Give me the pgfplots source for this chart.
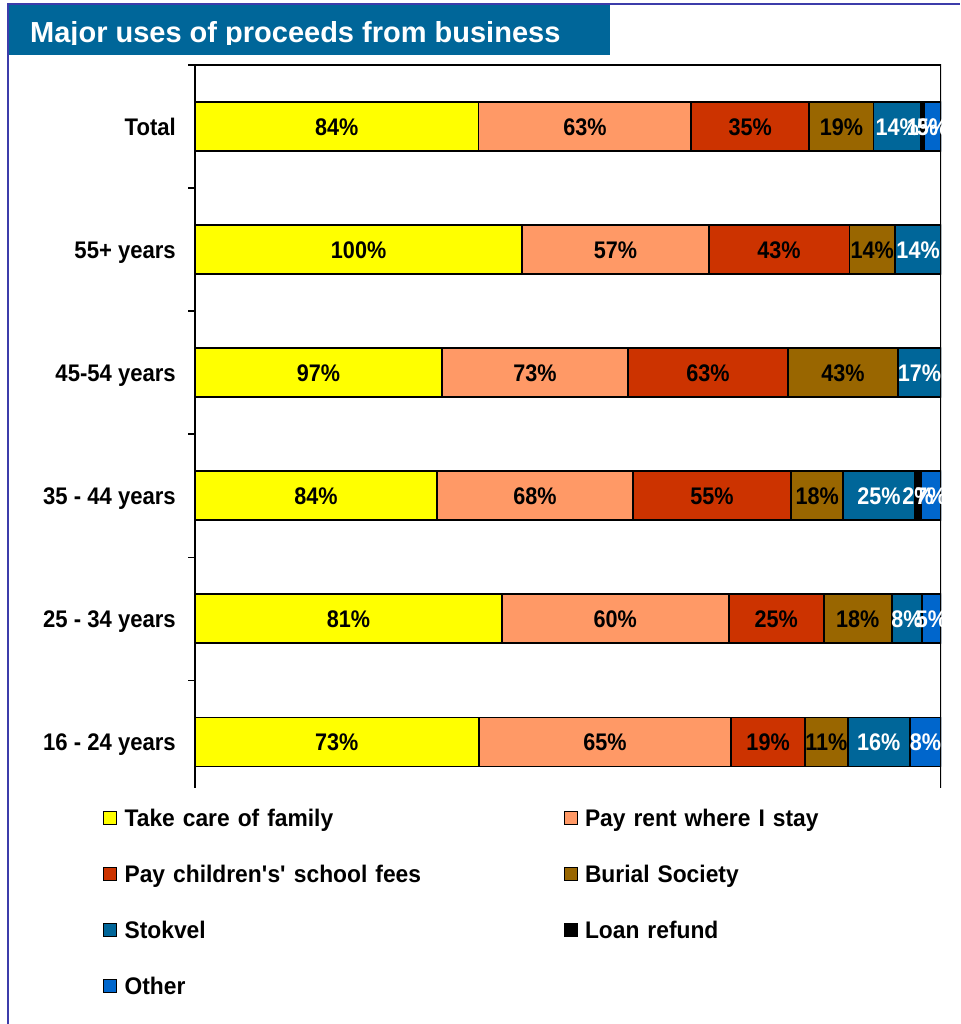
\documentclass[border=0pt]{standalone}
\usepackage{pgfplots}
\usepackage{pgfplotstable}
\pgfplotsset{compat=1.18}
\usepackage{fontspec}
\setmainfont{Liberation Sans}
\newfontfamily\tickfont[FakeStretch=0.92]{Liberation Sans}
\newfontfamily\barfont[FakeStretch=0.9]{Liberation Sans}
\newfontfamily\legfont[FakeStretch=0.95]{Liberation Sans}

\definecolor{cYellow}{HTML}{FFFF00}
\definecolor{cSalmon}{HTML}{FF9966}
\definecolor{cRed}{HTML}{CC3300}
\definecolor{cBrown}{HTML}{996600}
\definecolor{cTeal}{HTML}{006699}
\definecolor{cLoan}{HTML}{000000}
\definecolor{cOther}{HTML}{0066CC}
\definecolor{titleblue}{HTML}{006699}
\definecolor{frameblue}{RGB}{60,60,170}

% share of respondents (%) naming each use, by age group (0 = 16-24 ... 5 = Total)
\pgfplotstableread{
idx fam rent school burial stokvel loan other
0   73  65   19     11     16      0    8
1   81  60   25     18     8       0    5
2   84  68   55     18     25      2    7
3   97  73   63     43     17      0    0
4   100 57   43     14     14      0    0
5   84  63   35     19     14      1    5
}\uses
% row totals, used to scale every bar to the full width
\pgfplotstablecreatecol[expr={\thisrow{fam}+\thisrow{rent}+\thisrow{school}+\thisrow{burial}+\thisrow{stokvel}+\thisrow{loan}+\thisrow{other}}]{sum}{\uses}

\pgfplotsset{
  panel/.style={
    at={(195pt,236pt)}, anchor=south west,
    scale only axis, width=746pt, height=723pt,
    xmin=0, xmax=100, ymin=-0.374, ymax=5.5,
    clip mode=global,
  },
}

\begin{document}
\begin{tikzpicture}[x=1pt,y=1pt]
\path[use as bounding box] (0,0) rectangle (960,1024);

% heading bar
\fill[titleblue] (8,969) rectangle (610,1019);
\begin{scope}
  \clip (8,979) rectangle (610,1019);
  \node[anchor=base west, text=white, inner sep=0pt,
        font=\bfseries\fontsize{29}{34}\selectfont] at (30,981)
        {Major uses of proceeds from business};
\end{scope}

% page frame
\draw[frameblue, line width=2pt] (8,0) -- (8,1020) -- (960,1020);

% the stacked bars, each row scaled to its total
\begin{axis}[
  panel,
  xbar stacked, bar width=49pt,
  axis x line=none, axis y line=left,
  axis line style={-, line width=1.8pt, black},
  ytick={0,...,5},
  yticklabels={16 - 24 years, 25 - 34 years, 35 - 44 years, 45-54 years, 55+ years, Total},
  major tick length=0pt,
  extra y ticks={0.5,1.5,2.5,3.5,4.5,5.5},
  extra y tick labels={},
  extra y tick style={major tick length=7pt, tick align=outside,
                      tick style={line width=1.5pt, black}},
  yticklabel style={font=\tickfont\bfseries\fontsize{24}{28}\selectfont,
                    anchor=base east, inner sep=0pt, xshift=-19pt, yshift=-8.6pt},
  every axis plot/.append style={draw=black, line width=1.8pt},
  every axis plot post/.append style={
    legend image code/.code={
      \draw[##1, draw=black, line width=1pt] (0pt,-4pt) rectangle (13pt,9pt);
      \path (20pt,0pt);
    }},
  legend columns=2, legend cell align=left,
  legend style={draw=none, fill=none, at={(-0.1233,-0.0295)}, anchor=north west,
      inner sep=0pt, row sep=34pt, column sep=0pt,
      font=\legfont\bfseries\fontsize{24}{28}\selectfont,
      nodes={inner sep=0pt, text height=17pt, text depth=5pt},
      /tikz/every even column/.append style={text width=439pt}},
]
\addplot[fill=cYellow]
  table[x expr=\thisrow{fam}*100/\thisrow{sum}, y=idx]{\uses};
\addlegendentry{Take care of family}
\addplot[fill=cSalmon]
  table[x expr=\thisrow{rent}*100/\thisrow{sum}, y=idx]{\uses};
\addlegendentry{Pay rent where I stay}
\addplot[fill=cRed]
  table[x expr=\thisrow{school}*100/\thisrow{sum}, y=idx]{\uses};
\addlegendentry{Pay children\textquotesingle s\textquotesingle{} school fees}
\addplot[fill=cBrown]
  table[x expr=\thisrow{burial}*100/\thisrow{sum}, y=idx]{\uses};
\addlegendentry{Burial Society}
\addplot[fill=cTeal]
  table[x expr=\thisrow{stokvel}*100/\thisrow{sum}, y=idx]{\uses};
\addlegendentry{Stokvel}
\addplot[fill=cLoan]
  table[x expr=\thisrow{loan}*100/\thisrow{sum}, y=idx]{\uses};
\addlegendentry{Loan refund}
\addplot[fill=cOther]
  table[x expr=\thisrow{other}*100/\thisrow{sum}, y=idx]{\uses};
\addlegendentry{Other}

% top and right edges of the plot area
\draw[black, line width=1.8pt] (rel axis cs:0,1) -- (rel axis cs:1,1) -- (rel axis cs:1,0);
\end{axis}

% value labels at the middle of each segment
\begin{axis}[
  panel, hide axis,
  cycle list={{only marks, mark=none}},
  every axis plot post/.append style={only marks, mark=none, draw=none},
  point meta=explicit symbolic,
  nodes near coords={\ifnum\pgfplotspointmeta>0 \pgfplotspointmeta\%\fi},
  every node near coord/.append style={anchor=base, inner sep=0pt, yshift=-8.6pt,
      text=black, font=\barfont\bfseries\fontsize{24}{28}\selectfont},
  white/.style={every node near coord/.append style={text=white}},
]
\addplot table[x expr={\thisrow{fam}*50/\thisrow{sum}}, y=idx, meta=fam]{\uses};
\addplot table[x expr={(\thisrow{fam}+\thisrow{rent}/2)*100/\thisrow{sum}}, y=idx, meta=rent]{\uses};
\addplot table[x expr={(\thisrow{fam}+\thisrow{rent}+\thisrow{school}/2)*100/\thisrow{sum}}, y=idx, meta=school]{\uses};
\addplot table[x expr={(\thisrow{fam}+\thisrow{rent}+\thisrow{school}+\thisrow{burial}/2)*100/\thisrow{sum}}, y=idx, meta=burial]{\uses};
\addplot[white] table[x expr={(\thisrow{fam}+\thisrow{rent}+\thisrow{school}+\thisrow{burial}+\thisrow{stokvel}/2)*100/\thisrow{sum}}, y=idx, meta=stokvel]{\uses};
\addplot[white] table[x expr={(\thisrow{sum}-\thisrow{other}-\thisrow{loan}/2)*100/\thisrow{sum}}, y=idx, meta=loan]{\uses};
\addplot[white] table[x expr={(\thisrow{sum}-\thisrow{other}/2)*100/\thisrow{sum}}, y=idx, meta=other]{\uses};
\end{axis}
\end{tikzpicture}
\end{document}
